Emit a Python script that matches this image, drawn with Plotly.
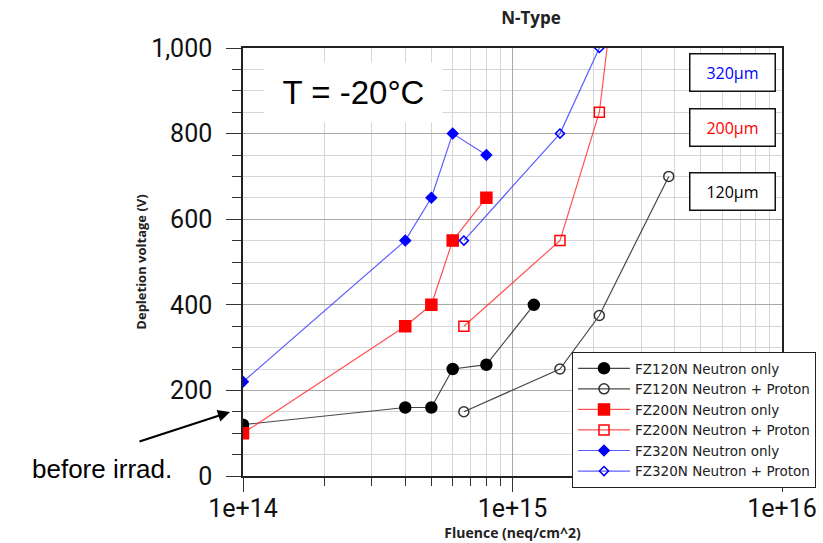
import plotly.graph_objects as go

# ---- data ----
fz120_n_x = [1e14, 4e14, 5e14, 6e14, 8e14, 1.2e15]
fz120_n_y = [120, 160, 160, 250, 260, 400]
fz120_np_x = [6.6e14, 1.5e15, 2.1e15, 3.8e15]
fz120_np_y = [150, 250, 375, 700]
fz200_n_x = [1e14, 4e14, 5e14, 6e14, 8e14]
fz200_n_y = [100, 350, 400, 550, 650]
fz200_np_x = [6.6e14, 1.5e15, 2.1e15, 3.8e15]
fz200_np_y = [350, 550, 850, 2200]
fz320_n_x = [1e14, 4e14, 5e14, 6e14, 8e14]
fz320_n_y = [220, 550, 650, 800, 750]
fz320_np_x = [6.6e14, 1.5e15, 2.1e15]
fz320_np_y = [550, 800, 1000]

x_tickvals = [1e14, 1e15, 1e16]
x_ticktext = ["1e+14", "1e+15", "1e+16"]
y_tickvals = [0, 200, 400, 600, 800, 1000]
y_ticktext = ["0", "200", "400", "600", "800", "1,000"]

W, H = 823, 543
L, R, T, B = 243, 41, 48, 67
PW, PH = W - L - R, H - T - B


def px(x):
    return (x - L) / PW


def py(y):
    return (H - B - y) / PH


fig = go.Figure()


def add(name, xs, ys, lcol, mcol, symbol, size, lw=1.2, mlw=1.5):
    fig.add_trace(go.Scatter(
        x=xs, y=ys, name=name, mode="lines+markers",
        line=dict(color=lcol, width=lw),
        marker=dict(symbol=symbol, size=size, color=mcol,
                    line=dict(color=mcol, width=mlw)),
    ))


add("FZ120N Neutron only", fz120_n_x, fz120_n_y, "rgba(40,40,40,0.85)", "black", "circle", 11)
add("FZ120N Neutron + Proton", fz120_np_x, fz120_np_y, "rgba(40,40,40,0.85)", "#333", "circle-open", 10)
add("FZ200N Neutron only", fz200_n_x, fz200_n_y, "rgba(255,40,40,0.8)", "red", "square", 11)
add("FZ200N Neutron + Proton", fz200_np_x, fz200_np_y, "rgba(255,40,40,0.8)", "red", "square-open", 10)
add("FZ320N Neutron only", fz320_n_x, fz320_n_y, "rgba(40,40,255,0.75)", "blue", "diamond", 8)
add("FZ320N Neutron + Proton", fz320_np_x, fz320_np_y, "rgba(40,40,255,0.75)", "blue", "diamond-open", 7)

tickfont = dict(family="Roboto", size=25, color="#111")

fig.update_xaxes(
    type="log", range=[14, 16], automargin=False,
    tickvals=x_tickvals, ticktext=x_ticktext, tickfont=tickfont,
    ticks="outside", ticklen=14, tickcolor="#333", tickwidth=1.2,
    ticklabelstandoff=-5,
    showgrid=True, gridcolor="#a8a8a8", gridwidth=1,
    minor=dict(dtick="D1", ticks="outside", ticklen=8, tickcolor="#333",
               showgrid=True, gridcolor="#d6d6d6"),
    showline=True, linecolor="#222", linewidth=1.5, mirror=True,
    zeroline=False,
    title=dict(text="<b>Fluence (neq/cm^2)</b>",
               font=dict(family="Open Sans", size=14, color="#222"), standoff=0),
)
fig.update_yaxes(
    range=[0, 1000], automargin=False,
    tickvals=y_tickvals, ticktext=y_ticktext, tickfont=tickfont,
    ticks="outside", ticklen=15, tickcolor="#333", tickwidth=1.2,
    ticklabelstandoff=9,
    showgrid=True, gridcolor="#a8a8a8", gridwidth=1,
    minor=dict(dtick=50, ticks="outside", ticklen=9, tickcolor="#333",
               showgrid=True, gridcolor="#d6d6d6"),
    showline=True, linecolor="#222", linewidth=1.5, mirror=True,
    zeroline=False,
    title=dict(text="<b>Depletion voltage (V)</b>",
               font=dict(family="Open Sans", size=13, color="#222"), standoff=2),
)

fig.update_layout(
    width=W, height=H,
    margin=dict(l=L, r=R, t=T, b=B, autoexpand=False),
    paper_bgcolor="white", plot_bgcolor="white",
    title=dict(text="<b>N-Type</b>", x=px(531), xref="paper", xanchor="center",
               y=1 - 18 / H, yref="container", yanchor="middle",
               font=dict(family="Open Sans", size=17, color="#222")),
    legend=dict(x=px(572), y=py(352), xanchor="left", yanchor="top",
                bgcolor="white", bordercolor="#222", borderwidth=1,
                font=dict(family="DejaVu Sans", size=13.5, color="#222"),
                itemwidth=52, tracegroupgap=0),
    showlegend=True,
)

box_common = dict(xref="paper", yref="paper", showarrow=False,
                  xanchor="center", yanchor="middle",
                  bordercolor="#111", borderwidth=1.5, bgcolor="white",
                  width=82, height=34, borderpad=1)

annotations = [
    dict(text="T = -20°C", xref="paper", yref="paper",
         x=px(353.5), y=py(92.5), xanchor="center", yanchor="middle",
         showarrow=False,
         font=dict(family="Liberation Sans", size=33, color="black"),
         bgcolor="white", width=171, height=53, borderpad=3),
    dict(text="320µm", x=px(732.5), y=py(72.5),
         font=dict(family="Open Sans", size=16, color="blue"), **box_common),
    dict(text="200µm", x=px(732.5), y=py(127.5),
         font=dict(family="Open Sans", size=16, color="red"), **box_common),
    dict(text="120µm", x=px(732.5), y=py(191),
         font=dict(family="Open Sans", size=16, color="black"), **box_common),
    dict(text="before irrad.", xref="paper", yref="paper",
         x=px(102), y=py(469), xanchor="center", yanchor="middle",
         showarrow=False,
         font=dict(family="Liberation Sans", size=26, color="black")),
    dict(text="", xref="paper", yref="paper",
         x=px(230), y=py(412),
         ax=-92, ay=30, showarrow=True, arrowhead=2, arrowsize=1.1,
         arrowwidth=2.2, arrowcolor="black"),
]
fig.update_layout(annotations=annotations)

fig.write_html("out.html")
